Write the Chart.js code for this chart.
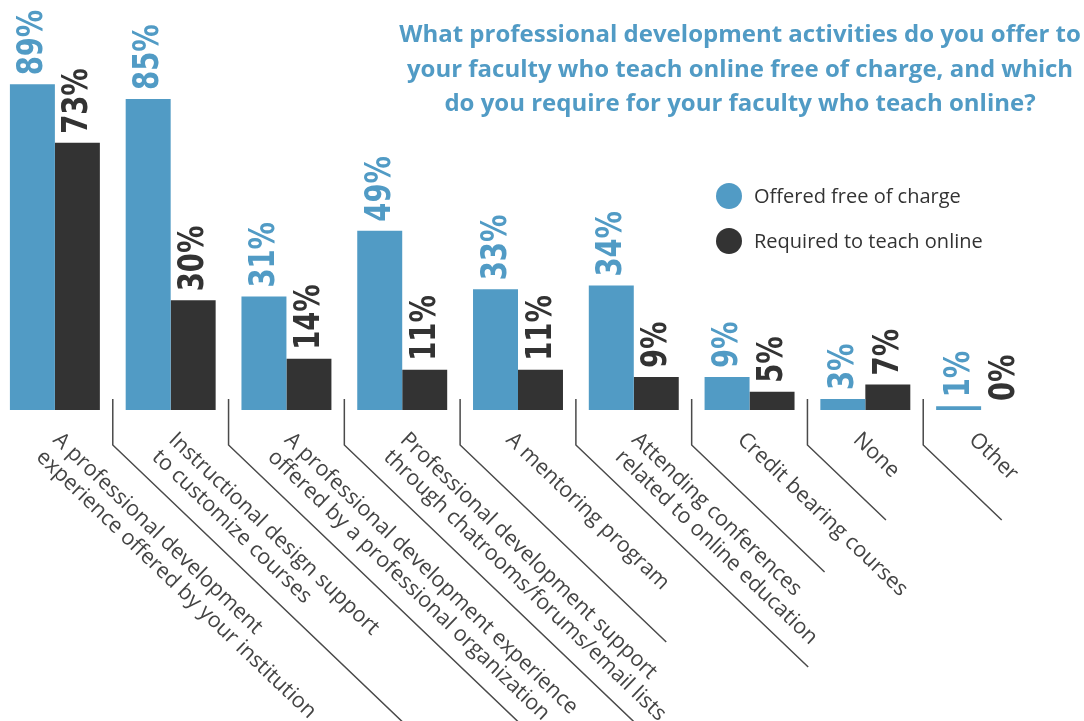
<!DOCTYPE html>
<html>
<head>
<meta charset="utf-8">
<script src="https://cdn.jsdelivr.net/npm/chart.js@4/dist/chart.umd.min.js"></script>
<style>
  html, body { margin: 0; padding: 0; background: #ffffff; }
  #wrap { width: 1084px; height: 721px; position: relative; overflow: hidden; }
  #chart { position: absolute; left: -3px; top: 0; }
</style>
</head>
<body>
<div id="wrap"><canvas id="chart" width="1087" height="721"></canvas></div>
<script>
// Survey answers (percent of respondents)
const categories = [
  ["A professional development", "experience offered by your institution"],
  ["Instructional design support", "to customize courses"],
  ["A professional development experience", "offered by a professional organization"],
  ["Professional development support", "through chatrooms/forums/email lists"],
  ["A mentoring program"],
  ["Attending conferences", "related to online education"],
  ["Credit bearing courses"],
  ["None"],
  ["Other"]
];
const offeredFree = [89, 85, 31, 49, 33, 34, 9, 3, 1];
const requiredOnline = [73, 30, 14, 11, 11, 9, 5, 7, 0];
const seriesNames = ["Offered free of charge", "Required to teach online"];
const titleLines = [
  "What professional development activities do you offer to",
  "your faculty who teach online free of charge, and which",
  "do you require for your faculty who teach online?"
];

// Styling
const BLUE = "#519bc5";
const DARK = "#333333";
const TEXT = "#444444";
const LABEL_ANGLE = 43.7 * Math.PI / 180;
const SHIFT = 3; // canvas sits 3px left of the page edge
// Where each divider between neighbouring categories stops (y in px)
const dividerEnds = [760, 760, 740, 642, 667, 572, 520, 520];

const overlay = {
  id: "overlay",
  afterDatasetsDraw(chart) {
    const ctx = chart.ctx;
    const xs = chart.scales.x;
    const area = chart.chartArea;

    // value labels above each bar, rotated
    chart.data.datasets.forEach((ds, di) => {
      const meta = chart.getDatasetMeta(di);
      meta.data.forEach((bar, i) => {
        ctx.save();
        ctx.translate(bar.x, bar.y - 9);
        ctx.rotate(-Math.PI / 2);
        ctx.scale(0.87, 1);
        ctx.font = "bold 35px 'DejaVu Sans Condensed', 'DejaVu Sans', sans-serif";
        ctx.fillStyle = ds.labelColor;
        ctx.textAlign = "left";
        ctx.textBaseline = "middle";
        ctx.fillText(ds.data[i] + "%", 0, 1);
        ctx.restore();
      });
    });

    // dividers: short vertical tick, then a diagonal running along the labels
    const slope = Math.tan(LABEL_ANGLE);
    ctx.save();
    ctx.strokeStyle = "#4a4a4a";
    ctx.lineWidth = 1.5;
    const top = area.bottom - 11, knee = area.bottom + 35;
    for (let i = 0; i < chart.data.labels.length - 1; i++) {
      const bx = (xs.getPixelForValue(i) + xs.getPixelForValue(i + 1)) / 2;
      const endY = dividerEnds[i];
      ctx.beginPath();
      ctx.moveTo(bx, top);
      ctx.lineTo(bx, knee);
      ctx.lineTo(bx + (endY - knee) / slope, endY);
      ctx.stroke();
    }
    ctx.restore();

    // category labels
    ctx.save();
    ctx.font = "21.5px 'Open Sans', sans-serif";
    ctx.fillStyle = TEXT;
    ctx.textAlign = "left";
    ctx.textBaseline = "alphabetic";
    const ux = Math.cos(LABEL_ANGLE), uy = Math.sin(LABEL_ANGLE);
    chart.data.labels.forEach((lines, i) => {
      const cx = xs.getPixelForValue(i);
      const ox = lines.length > 1 ? cx - 3 : cx - 13;
      const oy = area.bottom + 31;
      lines.forEach((line, li) => {
        ctx.save();
        ctx.translate(ox - uy * 24 * li, oy + ux * 24 * li);
        ctx.rotate(LABEL_ANGLE);
        ctx.fillText(line, 0, 0);
        ctx.restore();
      });
    });
    ctx.restore();

    // title
    ctx.save();
    ctx.font = "bold 24px 'Open Sans', sans-serif";
    ctx.fillStyle = BLUE;
    ctx.textAlign = "center";
    ctx.textBaseline = "alphabetic";
    titleLines.forEach((t, i) => ctx.fillText(t, 740 + SHIFT, 42 + i * 34.5));
    ctx.restore();

    // legend
    ctx.save();
    ctx.font = "20px 'Open Sans', sans-serif";
    ctx.textAlign = "left";
    ctx.textBaseline = "middle";
    chart.data.datasets.forEach((ds, di) => {
      const y = 196 + di * 45;
      ctx.fillStyle = ds.backgroundColor;
      ctx.beginPath();
      ctx.arc(729 + SHIFT, y, 13, 0, Math.PI * 2);
      ctx.fill();
      ctx.fillStyle = DARK;
      ctx.fillText(ds.label, 754 + SHIFT, y + 1);
    });
    ctx.restore();
  }
};

new Chart(document.getElementById("chart"), {
  type: "bar",
  data: {
    labels: categories,
    datasets: [
      { label: seriesNames[0], data: offeredFree, backgroundColor: BLUE, labelColor: BLUE },
      { label: seriesNames[1], data: requiredOnline, backgroundColor: DARK, labelColor: DARK }
    ]
  },
  options: {
    responsive: false,
    animation: false,
    devicePixelRatio: 1,
    layout: { padding: { top: 44, bottom: 311, left: 0, right: 45 } },
    datasets: { bar: { categoryPercentage: 0.777, barPercentage: 1.0, borderWidth: 0 } },
    scales: {
      x: { display: false },
      y: { display: false, min: 0, max: 100 }
    },
    plugins: { legend: { display: false }, title: { display: false }, tooltip: { enabled: false } }
  },
  plugins: [overlay]
});
</script>
</body>
</html>
